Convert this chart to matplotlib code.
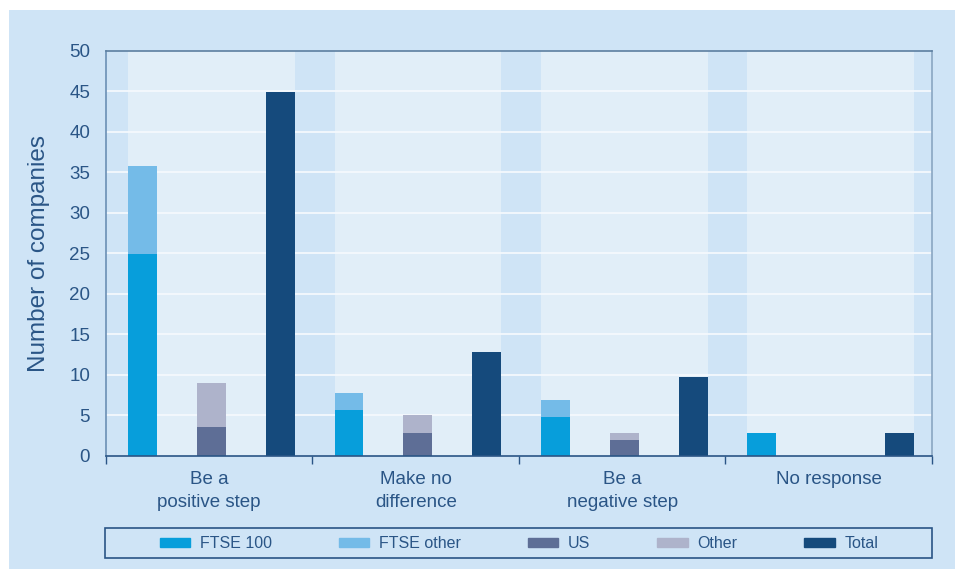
import numpy as np
import matplotlib.pyplot as plt
from matplotlib.patches import Rectangle, Patch

plt.rcParams['font.family'] = ['Liberation Sans', 'DejaVu Sans']

groups = ["Be a\npositive step", "Make no\ndifference", "Be a\nnegative step", "No response"]
ftse100 = [24.9, 5.7, 4.8, 2.9]
ftse_other = [10.9, 2.1, 2.1, 0]
us = [3.6, 2.9, 2.0, 0]
other = [5.4, 2.1, 0.9, 0]
total = [44.9, 12.8, 9.8, 2.9]

c_ftse100 = "#079edb"
c_ftse_other = "#74bbe8"
c_us = "#5e6e96"
c_other = "#aeb3cb"
c_total = "#154a7c"
c_text = "#2a5586"
c_bg = "#cfe4f6"
c_band = "#e1eef8"

fig = plt.figure(figsize=(9.6, 5.69), dpi=100)
fig.patches.append(Rectangle((9 / 960, 0), 946 / 960, 559 / 569, transform=fig.transFigure,
                             facecolor=c_bg, edgecolor="none", zorder=-10))
ax = fig.add_axes([0.1104, 0.1986, 0.8604, 0.7118])
ax.set_facecolor(c_bg)

x = np.arange(len(groups)) + 0.01
off = 1 / 3
w = 0.14

for xi in x:
    ax.axvspan(xi - off - w / 2, xi + off + w / 2, color=c_band, zorder=0, lw=0)

for yv in range(5, 50, 5):
    ax.axhline(yv, color="#f4f9fd", lw=1.3, zorder=1)

ax.bar(x - off, ftse100, w, color=c_ftse100, zorder=2, label="FTSE 100")
ax.bar(x - off, ftse_other, w, bottom=ftse100, color=c_ftse_other, zorder=2, label="FTSE other")
ax.bar(x, us, w, color=c_us, zorder=2, label="US")
ax.bar(x, other, w, bottom=us, color=c_other, zorder=2, label="Other")
ax.bar(x + off, total, w, color=c_total, zorder=2, label="Total")

ax.set_xlim(-0.5, len(groups) - 0.5)
ax.set_ylim(0, 50)
ax.set_yticks(range(0, 51, 5))
ax.tick_params(axis="y", length=0, pad=11.5, labelsize=13.5, labelcolor=c_text)

ax.set_xticks(np.arange(len(groups) + 1) - 0.5)
ax.set_xticklabels([])
ax.tick_params(axis="x", which="major", length=6, width=1, color=c_text, direction="out")
ax.set_xticks(x - 0.01, minor=True)
ax.set_xticklabels(groups, minor=True, linespacing=1.45)
ax.tick_params(axis="x", which="minor", length=0, pad=11, labelsize=13.5, labelcolor=c_text)

ax.set_ylabel("Number of companies", fontsize=17.5, color=c_text, labelpad=14)

ax.spines["left"].set_color("#6b8fb5")
ax.spines["bottom"].set_color(c_text)
ax.spines["top"].set_color("#5c7fa0")
ax.spines["right"].set_color("#8aa6c2")
for s in ax.spines.values():
    s.set_linewidth(1.2)

fig.patches.append(Rectangle((105 / 960, 11 / 569), 827 / 960, 30 / 569, transform=fig.transFigure,
                             facecolor="none", edgecolor=c_text, lw=1.2))
handles = [Patch(color=c) for c in [c_ftse100, c_ftse_other, c_us, c_other, c_total]]
labels = ["FTSE 100", "FTSE other", "US", "Other", "Total"]
leg = fig.legend(handles, labels, loc="center", bbox_to_anchor=(519 / 960, 25 / 569), ncol=5,
                 frameon=False, fontsize=11.5, handlelength=1.9, handleheight=0.5,
                 columnspacing=4.2, handletextpad=0.6)
for t in leg.get_texts():
    t.set_color(c_text)

fig.savefig("out.png", dpi=100)
